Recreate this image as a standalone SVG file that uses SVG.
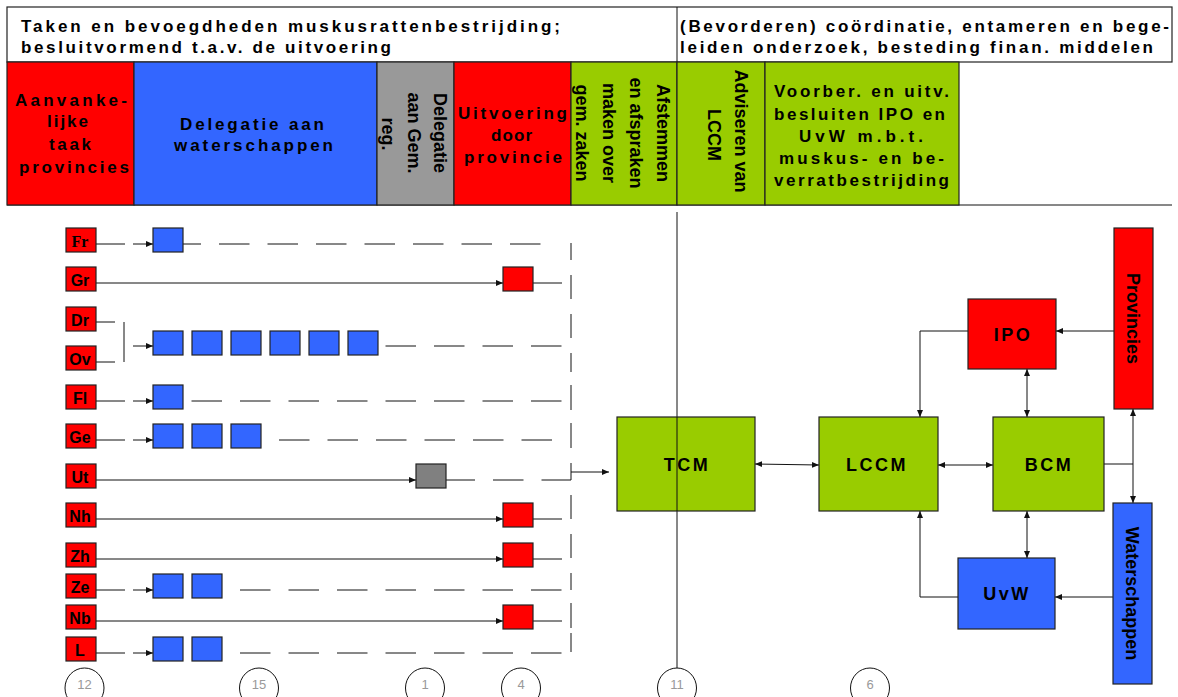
<svg xmlns="http://www.w3.org/2000/svg" width="1178" height="697" viewBox="0 0 1178 697">
<defs>
<style>
text{font-family:"Liberation Sans",Arial,sans-serif;font-weight:bold;fill:#000}
.ht{font-size:17px}
.ct{font-size:17px}
.rt{font-size:18px;text-anchor:middle}
.nt{font-size:18px;text-anchor:middle;letter-spacing:2.5px}
.pl{font-size:16px;text-anchor:middle}
.num{font-family:"Liberation Sans",Arial,sans-serif;font-weight:normal;font-size:13px;fill:#999;text-anchor:middle}
.box{stroke:#222;stroke-width:1.2}
.red{fill:#FF0000}
.blue{fill:#3366FF}
.green{fill:#99CC00}
.grey{fill:#999999}
.dgrey{fill:#808080}
.ln{stroke:#111;stroke-width:1;fill:none}
.dash{stroke:#111;stroke-width:1;fill:none;stroke-dasharray:30.5 18}
.circ{fill:#fff;stroke:#111;stroke-width:1}
</style>
<marker id="ar" markerUnits="userSpaceOnUse" markerWidth="8" markerHeight="8" refX="7" refY="3" orient="auto-start-reverse" viewBox="0 0 8 6">
<path d="M0,0 L7,3 L0,6 z" fill="#111"/>
</marker>
</defs>
<rect width="1178" height="697" fill="#fff"/>

<!-- header -->
<g id="header">
<rect x="7" y="7" width="1165" height="55" fill="#fff" class="box"/>
<line x1="677" y1="7" x2="677" y2="62" class="ln"/>
<text class="ht" x="21" y="32" textLength="539" lengthAdjust="spacing">Taken en bevoegdheden muskusrattenbestrijding;</text>
<text class="ht" x="21" y="53" textLength="370" lengthAdjust="spacing">besluitvormend t.a.v. de uitvoering</text>
<text class="ht" x="680" y="32" textLength="489" lengthAdjust="spacing">(Bevorderen) coördinatie, entameren en bege-</text>
<text class="ht" x="680" y="53" textLength="473" lengthAdjust="spacing">leiden onderzoek, besteding finan. middelen</text>
<line x1="7" y1="205" x2="1172" y2="205" class="ln" stroke="#444"/>
</g>

<g id="col-aanvankelijke">
<rect x="7" y="62" width="127" height="143" class="box red"/>
<text class="ct" x="15" y="106" textLength="112" lengthAdjust="spacing">Aanvanke-</text>
<text class="ct" x="47" y="127" textLength="41" lengthAdjust="spacing">lijke</text>
<text class="ct" x="49" y="150" textLength="42" lengthAdjust="spacing">taak</text>
<text class="ct" x="19" y="173" textLength="110" lengthAdjust="spacing">provincies</text>
</g>
<g id="col-delegatie-ws">
<rect x="134" y="62" width="243" height="143" class="box blue"/>
<text class="ct" x="180" y="130" textLength="144" lengthAdjust="spacing">Delegatie aan</text>
<text class="ct" x="174" y="151" textLength="159" lengthAdjust="spacing">waterschappen</text>
</g>
<g id="col-delegatie-gem">
<rect x="377" y="62" width="77" height="143" class="box grey"/>
<text class="rt" transform="translate(434,133) rotate(90)">Delegatie</text>
<text class="rt" transform="translate(408,133) rotate(90)">aan Gem.</text>
<text class="rt" transform="translate(382,134) rotate(90)">reg.</text>
</g>
<g id="col-uitvoering">
<rect x="454" y="62" width="117" height="143" class="box red"/>
<text class="ct" x="458" y="119" textLength="109" lengthAdjust="spacing">Uitvoering</text>
<text class="ct" x="491" y="141" textLength="41" lengthAdjust="spacing">door</text>
<text class="ct" x="464" y="163" textLength="98" lengthAdjust="spacing">provincie</text>
</g>
<g id="col-afstemmen">
<rect x="571" y="62" width="106" height="143" class="box green"/>
<text class="rt" transform="translate(657,133) rotate(90)">Afstemmen</text>
<text class="rt" transform="translate(630,133) rotate(90)">en afspraken</text>
<text class="rt" transform="translate(603,133) rotate(90)">maken over</text>
<text class="rt" transform="translate(576,133) rotate(90)">gem. zaken</text>
</g>
<g id="col-adviseren">
<rect x="677" y="62" width="88" height="143" class="box green"/>
<text class="rt" transform="translate(735,131) rotate(90)">Adviseren van</text>
<text class="rt" transform="translate(708,135) rotate(90)">LCCM</text>
</g>
<g id="col-voorber">
<rect x="765" y="62" width="194" height="143" class="box green"/>
<text class="ct" x="774" y="97" textLength="175" lengthAdjust="spacing">Voorber. en uitv.</text>
<text class="ct" x="774" y="120" textLength="171" lengthAdjust="spacing">besluiten IPO en</text>
<text class="ct" x="799" y="142" textLength="124" lengthAdjust="spacing">UvW m.b.t.</text>
<text class="ct" x="779" y="164" textLength="165" lengthAdjust="spacing">muskus- en be-</text>
<text class="ct" x="774" y="186" textLength="175" lengthAdjust="spacing">verratbestrijding</text>
</g>

<!-- connectors -->
<g id="connectors">
<!-- Fr -->
<line x1="96" y1="244" x2="125" y2="244" class="ln"/>
<line x1="133" y1="244" x2="153" y2="244" class="ln" marker-end="url(#ar)"/>
<line x1="183" y1="244" x2="542" y2="244" class="dash" stroke-dashoffset="12.5"/>
<!-- Gr -->
<line x1="96" y1="283" x2="503" y2="283" class="ln" marker-end="url(#ar)"/>
<line x1="533" y1="283" x2="562" y2="283" class="ln"/>
<!-- Dr/Ov -->
<line x1="96" y1="322" x2="115" y2="322" class="ln"/>
<line x1="96" y1="362" x2="115" y2="362" class="ln"/>
<line x1="124" y1="322" x2="124" y2="362" class="ln"/>
<line x1="133" y1="346" x2="153" y2="346" class="ln" marker-end="url(#ar)"/>
<line x1="385.5" y1="346" x2="562" y2="346" class="dash"/>
<!-- Fl -->
<line x1="96" y1="401" x2="125" y2="401" class="ln"/>
<line x1="133" y1="401" x2="153" y2="401" class="ln" marker-end="url(#ar)"/>
<line x1="191.5" y1="401" x2="562" y2="401" class="dash"/>
<!-- Ge -->
<line x1="96" y1="440" x2="125" y2="440" class="ln"/>
<line x1="133" y1="440" x2="153" y2="440" class="ln" marker-end="url(#ar)"/>
<line x1="279" y1="440" x2="552" y2="440" class="dash"/>
<!-- Ut -->
<line x1="96" y1="480" x2="416" y2="480" class="ln" marker-end="url(#ar)"/>
<line x1="446" y1="480" x2="571" y2="480" class="dash" stroke-dashoffset="1.5"/>
<polyline points="571,463 571,480" class="ln"/>
<line x1="571" y1="472" x2="609" y2="472" class="ln" marker-end="url(#ar)"/>
<!-- Nh, Zh -->
<line x1="96" y1="519" x2="503" y2="519" class="ln" marker-end="url(#ar)"/>
<line x1="533" y1="519" x2="562" y2="519" class="ln"/>
<line x1="96" y1="559" x2="503" y2="559" class="ln" marker-end="url(#ar)"/>
<line x1="533" y1="559" x2="562" y2="559" class="ln"/>
<!-- Ze -->
<line x1="96" y1="590" x2="125" y2="590" class="ln"/>
<line x1="133" y1="590" x2="153" y2="590" class="ln" marker-end="url(#ar)"/>
<line x1="240" y1="590" x2="562" y2="590" class="dash"/>
<!-- Nb -->
<line x1="96" y1="621" x2="503" y2="621" class="ln" marker-end="url(#ar)"/>
<line x1="533" y1="621" x2="562" y2="621" class="ln"/>
<!-- L -->
<line x1="96" y1="653" x2="125" y2="653" class="ln"/>
<line x1="133" y1="653" x2="153" y2="653" class="ln" marker-end="url(#ar)"/>
<line x1="240" y1="653" x2="562" y2="653" class="dash"/>
<!-- vertical dashed collector -->
<path class="ln" d="M571,243V260M571,275V299M571,314V338M571,353V372M571,385V410M571,423V448M571,495V519M571,534V558M571,573V590M571,603V628M571,633V652"/>
<!-- divider line -->
<line x1="677" y1="212" x2="677" y2="668" class="ln"/>
<!-- right side -->
<line x1="755" y1="464" x2="819" y2="465" class="ln" marker-start="url(#ar)" marker-end="url(#ar)"/>
<line x1="938" y1="465" x2="993" y2="465" class="ln" marker-start="url(#ar)" marker-end="url(#ar)"/>
<polyline points="968,331 920,331 920,417" class="ln" marker-end="url(#ar)"/>
<line x1="1027" y1="369" x2="1027" y2="417" class="ln" marker-start="url(#ar)" marker-end="url(#ar)"/>
<line x1="1114" y1="331" x2="1056" y2="331" class="ln" marker-end="url(#ar)"/>
<line x1="1104" y1="464" x2="1133" y2="464" class="ln"/>
<line x1="1133" y1="464" x2="1133" y2="409" class="ln" marker-end="url(#ar)"/>
<line x1="1133" y1="464" x2="1133" y2="503" class="ln" marker-end="url(#ar)"/>
<line x1="1027" y1="511" x2="1027" y2="558" class="ln" marker-start="url(#ar)" marker-end="url(#ar)"/>
<line x1="1113" y1="597" x2="1055" y2="597" class="ln" marker-end="url(#ar)"/>
<polyline points="958,597 920,597 920,511" class="ln" marker-end="url(#ar)"/>
</g>

<!-- province labels -->
<g id="p-fr"><rect x="66" y="228" width="30" height="24" class="box red"/><text class="pl" x="80" y="247" style="font-family:'Liberation Serif','Times New Roman',serif">Fr</text></g>
<g id="p-gr"><rect x="66" y="267" width="30" height="24" class="box red"/><text class="pl" x="80" y="286">Gr</text></g>
<g id="p-dr"><rect x="66" y="307" width="30" height="24" class="box red"/><text class="pl" x="80" y="326">Dr</text></g>
<g id="p-ov"><rect x="66" y="346" width="30" height="24" class="box red"/><text class="pl" x="80" y="365">Ov</text></g>
<g id="p-fl"><rect x="66" y="385" width="30" height="24" class="box red"/><text class="pl" x="80" y="404">Fl</text></g>
<g id="p-ge"><rect x="66" y="424" width="30" height="24" class="box red"/><text class="pl" x="80" y="443">Ge</text></g>
<g id="p-ut"><rect x="66" y="464" width="30" height="24" class="box red"/><text class="pl" x="80" y="483">Ut</text></g>
<g id="p-nh"><rect x="66" y="503" width="30" height="24" class="box red"/><text class="pl" x="80" y="522">Nh</text></g>
<g id="p-zh"><rect x="66" y="543" width="30" height="24" class="box red"/><text class="pl" x="80" y="562">Zh</text></g>
<g id="p-ze"><rect x="66" y="574" width="30" height="24" class="box red"/><text class="pl" x="80" y="593">Ze</text></g>
<g id="p-nb"><rect x="66" y="605" width="30" height="24" class="box red"/><text class="pl" x="80" y="624">Nb</text></g>
<g id="p-l"><rect x="66" y="637" width="30" height="24" class="box red"/><text class="pl" x="80" y="656">L</text></g>

<!-- delegation squares -->
<g id="sq-fr"><rect x="153" y="228" width="30" height="24" class="box blue"/></g>
<g id="sq-gr"><rect x="503" y="267" width="30" height="24" class="box red"/></g>
<g id="sq-drov">
<rect x="153" y="331" width="30" height="24" class="box blue"/>
<rect x="192" y="331" width="30" height="24" class="box blue"/>
<rect x="231" y="331" width="30" height="24" class="box blue"/>
<rect x="270" y="331" width="30" height="24" class="box blue"/>
<rect x="309" y="331" width="30" height="24" class="box blue"/>
<rect x="348" y="331" width="30" height="24" class="box blue"/>
</g>
<g id="sq-fl"><rect x="153" y="385" width="30" height="24" class="box blue"/></g>
<g id="sq-ge">
<rect x="153" y="424" width="30" height="24" class="box blue"/>
<rect x="192" y="424" width="30" height="24" class="box blue"/>
<rect x="231" y="424" width="30" height="24" class="box blue"/>
</g>
<g id="sq-ut"><rect x="416" y="464" width="30" height="24" class="box dgrey"/></g>
<g id="sq-nh"><rect x="503" y="503" width="30" height="24" class="box red"/></g>
<g id="sq-zh"><rect x="503" y="543" width="30" height="24" class="box red"/></g>
<g id="sq-ze">
<rect x="153" y="574" width="30" height="24" class="box blue"/>
<rect x="192" y="574" width="30" height="24" class="box blue"/>
</g>
<g id="sq-nb"><rect x="503" y="605" width="30" height="24" class="box red"/></g>
<g id="sq-l">
<rect x="153" y="637" width="30" height="24" class="box blue"/>
<rect x="192" y="637" width="30" height="24" class="box blue"/>
</g>

<!-- right side nodes -->
<g id="tcm"><rect x="617" y="417" width="138" height="94" class="box green"/><text class="nt" x="687" y="471">TCM</text></g>
<line x1="677" y1="417" x2="677" y2="511" class="ln"/>
<g id="lccm"><rect x="819" y="417" width="119" height="94" class="box green"/><text class="nt" x="877" y="471">LCCM</text></g>
<g id="bcm"><rect x="993" y="417" width="111" height="94" class="box green"/><text class="nt" x="1049" y="471">BCM</text></g>
<g id="ipo"><rect x="968" y="299" width="88" height="70" class="box red"/><text class="nt" x="1013" y="341">IPO</text></g>
<g id="uvw"><rect x="958" y="558" width="97" height="71" class="box blue"/><text class="nt" x="1007" y="600">UvW</text></g>
<g id="provincies"><rect x="1114" y="228" width="39" height="181" class="box red"/><text class="rt" transform="translate(1127,318.5) rotate(90)">Provincies</text></g>
<g id="waterschappen"><rect x="1113" y="503" width="39" height="181" class="box blue"/><text class="rt" transform="translate(1126,593.5) rotate(90)">Waterschappen</text></g>

<!-- count circles -->
<g id="c12"><ellipse cx="84.5" cy="688" rx="19.5" ry="20" class="circ"/><text class="num" x="84.5" y="689">12</text></g>
<g id="c15"><ellipse cx="259" cy="688" rx="19.5" ry="20" class="circ"/><text class="num" x="259" y="689">15</text></g>
<g id="c1"><ellipse cx="425" cy="688" rx="19.5" ry="20" class="circ"/><text class="num" x="425" y="689">1</text></g>
<g id="c4"><ellipse cx="521" cy="688" rx="19.5" ry="20" class="circ"/><text class="num" x="521" y="689">4</text></g>
<g id="c11"><ellipse cx="677" cy="688" rx="19.5" ry="20" class="circ"/><text class="num" x="677" y="689">11</text></g>
<g id="c6"><ellipse cx="870" cy="688" rx="19.5" ry="20" class="circ"/><text class="num" x="870" y="689">6</text></g>
</svg>
